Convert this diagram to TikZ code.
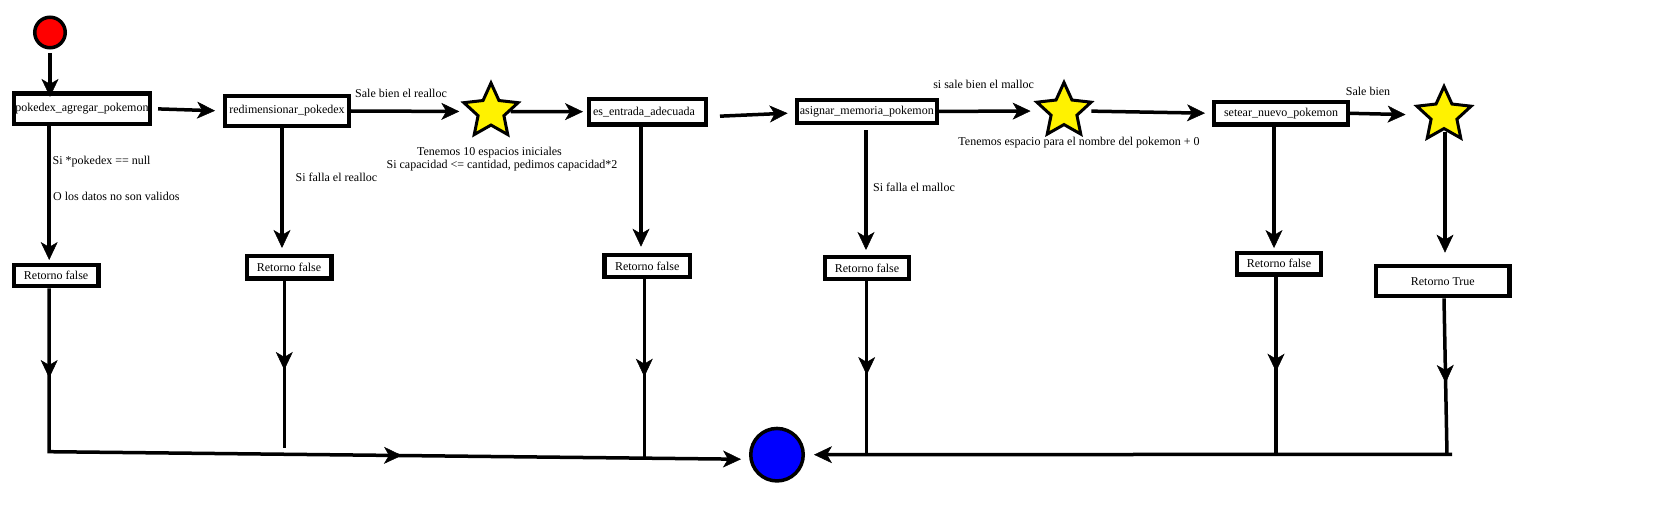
\documentclass[tikz,border=0pt]{standalone}
\usepackage{fontspec}
\setmainfont{Liberation Serif}
\usetikzlibrary{arrows.meta,shapes.geometric,decorations.markings}
\tikzset{
  every node/.style={font=\fontsize{12}{13}\selectfont},
  box/.style={draw, line width=4.2pt, fill=white, inner sep=0pt},
  lbl/.style={inner sep=0pt},
  arr/.style={line width=3.5pt, ->},
  ln/.style={line width=3.5pt},
  starnode/.style={star, star points=5, star point ratio=2.1, draw, fill=yellow,
    line width=3pt, minimum size=57pt, inner sep=0pt},
  mid/.style={postaction={decorate}, decoration={markings, mark=at position #1 with {\arrow{>}}}},
}
\begin{document}
\begin{tikzpicture}[x=1pt,y=-1pt,
  >={Stealth[length=18pt,width=17pt,inset=5pt,line width=0.5pt]}]
\fill[white] (0,0) rectangle (1658,508);
\useasboundingbox (0,0) rectangle (1658,508);

% start / end
\node[circle, draw, line width=3.5pt, fill=red, minimum size=30.5pt, inner sep=0pt] (start) at (50,32.5) {};
\node[circle, draw, line width=3.5pt, fill=blue, minimum size=52.5pt, inner sep=0pt] (end) at (777,454.7) {};

% main row
\node[box, minimum width=136.1pt, minimum height=30.3pt] (box1) at (81.9,108.7) {pokedex\_agregar\_pokemon};
\node[box, minimum width=123.8pt, minimum height=29.8pt] (box2) at (287,111) {redimensionar\_pokedex};
\node[starnode] (star1) at (491,111.5) {};
\node[box, minimum width=116.8pt, minimum height=25.8pt, text width=109pt, align=left] (box3) at (647.5,111.7) {es\_entrada\_adecuada};
\node[box, minimum width=140.2pt, minimum height=23.1pt] (box4) at (866.8,111.4) {asignar\_memoria\_pokemon};
\node[starnode] (star2) at (1064,111) {};
\node[box, minimum width=133.8pt, minimum height=22.5pt] (box5) at (1281,113.3) {setear\_nuevo\_pokemon};
\node[starnode] (star3) at (1444,115) {};

% return boxes
\node[box, minimum width=84.8pt, minimum height=21.4pt] (rf1) at (56.1,275.5) {Retorno false};
\node[box, minimum width=84.8pt, minimum height=22.5pt] (rf2) at (289,267.3) {Retorno false};
\node[box, minimum width=85.4pt, minimum height=22.4pt] (rf3) at (647.2,266) {Retorno false};
\node[box, minimum width=83.8pt, minimum height=21.8pt] (rf4) at (867,268) {Retorno false};
\node[box, minimum width=83.8pt, minimum height=21.3pt] (rf5) at (1279,263.8) {Retorno false};
\node[box, minimum width=133.5pt, minimum height=30.3pt] (rt) at (1442.8,281.2) {Retorno True};

% labels
\node[lbl] (l1) at (401,93) {Sale bien el realloc};
\node[lbl] (l2a) at (489.5,153) {Tenemos 10 espacios iniciales};
\node[lbl] (l2b) at (502,165.5) {Si capacidad <= cantidad, pedimos capacidad*2};
\node[lbl] (l3) at (983.6,84) {si sale bien el malloc};
\node[lbl] (l4) at (1079,143) {Tenemos espacio para el nombre del pokemon + 0};
\node[lbl] (l5) at (1368,91) {Sale bien};
\node[lbl, anchor=west] (l6) at (52.5,161.7) {Si *pokedex == null};
\node[lbl, anchor=west] (l7) at (52.9,196.7) {O los datos no son validos};
\node[lbl, anchor=west] (l8) at (295.4,177.7) {Si falla el realloc};
\node[lbl, anchor=west] (l9) at (873,187) {Si falla el malloc};

% helper coordinates
\coordinate (v2) at (282,0);
\coordinate (v3) at (641,0);
\coordinate (v4) at (866,0);
\coordinate (v5) at (1274,0);
\coordinate (v6) at (1445,0);
\coordinate (b1) at (49.2,451.7);
\coordinate (b2) at (284.3,448.3);
\coordinate (b3) at (644.3,457.5);
\coordinate (b4) at (866.7,454.3);
\coordinate (b5) at (1276,454.3);
\coordinate (b6) at (1447,454.3);
\coordinate (jr) at (1452,454.3);

% main row connectors
\draw[arr, shorten <=4pt, shorten >=-5.5pt] (start.south) -- (start.south |- box1.north);
\draw[arr, shorten <=6pt, shorten >=8pt] (box1.east) -- (box2.west);
\draw[arr, shorten >=12pt] (box2.east) -- (star1.west);
\draw[arr, shorten >=4pt] (star1.east) -- (box3.west);
\draw[arr, shorten <=12pt, shorten >=7pt] ([yshift=-5pt]box3.east) -- ([yshift=-1.5pt]box4.west);
\draw[arr, shorten >=13.7pt] (box4.east) -- (star2.west);
\draw[arr, shorten <=7.7pt, shorten >=7pt] (star2.east) -- (box5.west);
\draw[arr, shorten >=18.7pt] (box5.east) -- (star3.west);

% downward connectors
\draw[arr, shorten >=2.7pt] (b1 |- box1.south) -- (b1 |- rf1.north);
\draw[arr, shorten >=6pt] (v2 |- box2.south) -- (v2 |- rf2.north);
\draw[arr, shorten >=6pt] (v3 |- box3.south) -- (v3 |- rf3.north);
\draw[arr, shorten <=5pt, shorten >=5pt] (v4 |- box4.south) -- (v4 |- rf4.north);
\draw[arr, shorten >=3pt] (v5 |- box5.south) -- (v5 |- rf5.north);
\draw[arr, shorten <=2pt, shorten >=11.3pt] (v6 |- star3.south) -- (v6 |- rt.north);

% bottom connectors
\draw[arr, shorten >=8pt, postaction={decorate},
  decoration={markings, mark=at position 89.7pt with {\arrow{>}}, mark=at position 516.2pt with {\arrow{>}}}]
  (b1 |- rf1.south) -- (b1) -- ([yshift=-4.6pt]end.west);
\draw[ln, mid=89.3pt] (b2 |- rf2.south) -- (b2);
\draw[ln, mid=97.4pt] (b3 |- rf3.south) -- (b3);
\draw[ln, mid=94pt] (b4 |- rf4.south) -- (b4);
\draw[ln, mid=95.2pt] (b5 |- rf5.south) -- (b5);
\draw[ln, mid=84.5pt] ([xshift=1.2pt]rt.south) -- (b6);
\draw[arr, shorten >=9pt] (jr) -- (end.east);
\end{tikzpicture}
\end{document}
